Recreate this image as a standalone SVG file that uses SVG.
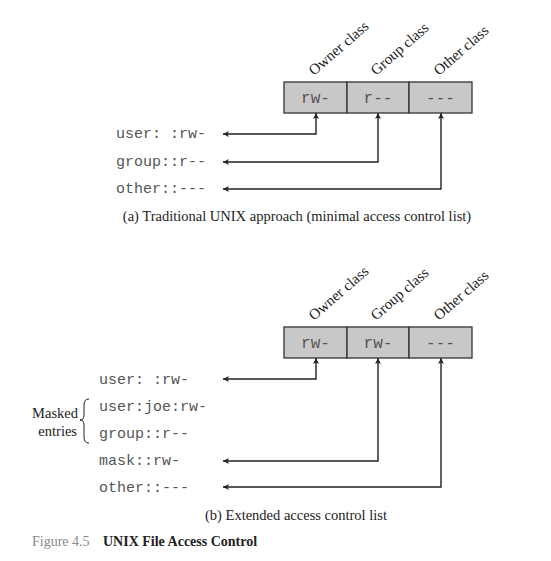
<svg xmlns="http://www.w3.org/2000/svg" width="551" height="561" viewBox="0 0 551 561">
<defs>
<marker id="ah" viewBox="0 0 10 10" refX="10" refY="5" markerWidth="9" markerHeight="6" markerUnits="userSpaceOnUse" orient="auto-start-reverse">
<path d="M0,0 L10,5 L0,10 L2.5,5 Z" fill="#222"/>
</marker>
</defs>
<style>
.cell{fill:#c8c8c8;stroke:#333;stroke-width:1.3}
.mono{font-family:"Liberation Mono","DejaVu Sans Mono",monospace;font-size:15px;fill:#555}
.cm{font-family:"Liberation Mono","DejaVu Sans Mono",monospace;font-size:16px;fill:#555}
.cls{font-family:"Liberation Serif","Times New Roman",serif;font-size:15px;fill:#222}
.ser{font-family:"Liberation Serif","Times New Roman",serif;font-size:14.5px;fill:#222}
.conn{fill:none;stroke:#222;stroke-width:1.4;marker-start:url(#ah);marker-end:url(#ah)}
</style>
<rect width="551" height="561" fill="#fff"/>

<!-- Part (a) -->
<g id="box-a">
<rect class="cell" x="284" y="82" width="63" height="31"/>
<rect class="cell" x="347" y="82" width="62" height="31"/>
<rect class="cell" x="409" y="82" width="63" height="31"/>
<text class="cm" x="315.5" y="103" text-anchor="middle">rw-</text>
<text class="cm" x="378" y="103" text-anchor="middle">r--</text>
<text class="cm" x="440.5" y="103" text-anchor="middle">---</text>
</g>
<g id="labels-a">
<text class="cls" transform="translate(314,76) rotate(-41)">Owner class</text>
<text class="cls" transform="translate(376,76) rotate(-41)">Group class</text>
<text class="cls" transform="translate(439,76) rotate(-41)">Other class</text>
</g>
<g id="entries-a">
<text class="mono" x="116" y="138">user: :rw-</text>
<text class="mono" x="116" y="166">group::r--</text>
<text class="mono" x="116" y="193">other::---</text>
</g>
<g id="connectors-a">
<path class="conn" d="M316,113 V134 H223"/>
<path class="conn" d="M378,113 V162 H223"/>
<path class="conn" d="M441,113 V189 H223"/>
</g>
<text id="caption-a" class="ser" x="297" y="221" text-anchor="middle">(a) Traditional UNIX approach (minimal access control list)</text>

<!-- Part (b) -->
<g id="box-b">
<rect class="cell" x="284" y="327" width="63" height="31"/>
<rect class="cell" x="347" y="327" width="62" height="31"/>
<rect class="cell" x="409" y="327" width="63" height="31"/>
<text class="cm" x="315.5" y="348" text-anchor="middle">rw-</text>
<text class="cm" x="378" y="348" text-anchor="middle">rw-</text>
<text class="cm" x="440.5" y="348" text-anchor="middle">---</text>
</g>
<g id="labels-b">
<text class="cls" transform="translate(314,321) rotate(-41)">Owner class</text>
<text class="cls" transform="translate(376,321) rotate(-41)">Group class</text>
<text class="cls" transform="translate(439,321) rotate(-41)">Other class</text>
</g>
<g id="entries-b">
<text class="mono" x="99" y="384">user: :rw-</text>
<text class="mono" x="99" y="411">user:joe:rw-</text>
<text class="mono" x="99" y="438">group::r--</text>
<text class="mono" x="99" y="465">mask::rw-</text>
<text class="mono" x="99" y="492">other::---</text>
</g>
<g id="masked">
<path d="M89,399 Q84,399 84,405 L84,415 Q84,420 80,420 Q84,420 84,425 L84,437 Q84,443 89,443" fill="none" stroke="#222" stroke-width="1"/>
<text class="ser" x="78" y="418" text-anchor="end">Masked</text>
<text class="ser" x="77" y="436" text-anchor="end">entries</text>
</g>
<g id="connectors-b">
<path class="conn" d="M316,358 V379 H223"/>
<path class="conn" d="M378,358 V461 H223"/>
<path class="conn" d="M441,358 V487 H223"/>
</g>
<text id="caption-b" class="ser" x="296" y="520" text-anchor="middle">(b) Extended access control list</text>

<g id="figure-caption">
<text x="32" y="546" style="font-family:'Liberation Serif',serif;font-size:14px;fill:#888">Figure 4.5</text>
<text x="103" y="546" style="font-family:'Liberation Serif',serif;font-size:14px;font-weight:bold;fill:#222">UNIX File Access Control</text>
</g>
</svg>
